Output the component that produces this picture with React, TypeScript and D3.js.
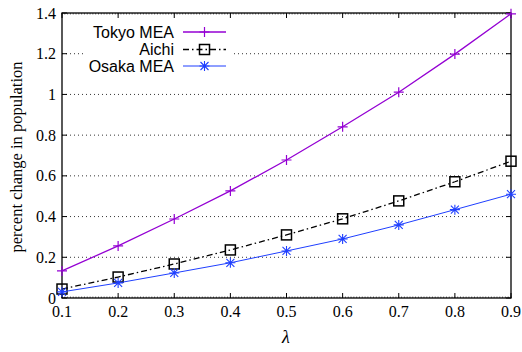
import React from "react";
import * as d3 from "d3";

const lambdas = [0.1, 0.2, 0.3, 0.4, 0.5, 0.6, 0.7, 0.8, 0.9];
const tokyo = [0.133, 0.256, 0.388, 0.526, 0.678, 0.841, 1.011, 1.198, 1.396];
const aichi = [0.044, 0.103, 0.167, 0.236, 0.31, 0.389, 0.477, 0.571, 0.672];
const osaka = [0.03, 0.074, 0.123, 0.173, 0.231, 0.29, 0.359, 0.434, 0.51];
const xTicks = [0.1, 0.2, 0.3, 0.4, 0.5, 0.6, 0.7, 0.8, 0.9];
const yTicks = [0, 0.2, 0.4, 0.6, 0.8, 1, 1.2, 1.4];
const seriesNames = ["Tokyo MEA", "Aichi", "Osaka MEA"];

const W = 522, H = 352;
const left = 62, right = 511, top = 13, bottom = 298;

function Marker({ kind, x, y, color }: { kind: string; x: number; y: number; color: string }) {
  if (kind === "plus") {
    return (
      <path d={`M${x - 5},${y}H${x + 5}M${x},${y - 5}V${y + 5}`} stroke={color} strokeWidth={1.2} fill="none" />
    );
  }
  if (kind === "square") {
    return <rect x={x - 5} y={y - 5} width={10} height={10} stroke={color} strokeWidth={1.5} fill="none" />;
  }
  return (
    <path
      d={`M${x - 5},${y}H${x + 5}M${x},${y - 5}V${y + 5}M${x - 4},${y - 4}L${x + 4},${y + 4}M${x - 4},${y + 4}L${x + 4},${y - 4}`}
      stroke={color}
      strokeWidth={1.1}
      fill="none"
    />
  );
}

export default function App() {
  const x = d3.scaleLinear().domain([0.1, 0.9]).range([left, right]);
  const y = d3.scaleLinear().domain([0, 1.4]).range([bottom, top]);
  const line = d3.line<number>().x((_, i) => x(lambdas[i])).y((v) => y(v));

  const series = [
    { name: seriesNames[0], data: tokyo, color: "#9400d3", dash: "", marker: "plus", width: 1.3 },
    { name: seriesNames[1], data: aichi, color: "#000000", dash: "6,3,1.5,3", marker: "square", width: 1.3 },
    { name: seriesNames[2], data: osaka, color: "#1f3fff", dash: "", marker: "star", width: 1 },
  ];

  const minor = d3.range(0.1, 0.9001, 0.005);
  const legendY = [32, 49.5, 66];

  return (
    <svg width={W} height={H} style={{ position: "absolute", left: 0, top: 0, background: "#fff" }}>
      {/* grid */}
      {yTicks.slice(1, -1).map((t) => (
        <line key={"g" + t} x1={left} x2={right} y1={y(t)} y2={y(t)} stroke="#000" strokeWidth={0.8} strokeDasharray="1,3" />
      ))}
      {/* minor x ticks */}
      {minor.map((t, i) => (
        <g key={"m" + i}>
          <line x1={x(t)} x2={x(t)} y1={bottom} y2={bottom - 1.5} stroke="#000" strokeWidth={0.6} />
          <line x1={x(t)} x2={x(t)} y1={top} y2={top + 1.5} stroke="#000" strokeWidth={0.6} />
        </g>
      ))}
      {xTicks.map((t) => (
        <g key={"x" + t}>
          <line x1={x(t)} x2={x(t)} y1={bottom} y2={bottom - 5} stroke="#000" />
          <line x1={x(t)} x2={x(t)} y1={top} y2={top + 5} stroke="#000" />
          <text x={x(t)} y={317} textAnchor="middle" fontFamily="Liberation Serif" fontSize={16}>
            {t}
          </text>
        </g>
      ))}
      {yTicks.map((t) => (
        <g key={"y" + t}>
          <line x1={left} x2={left + 5} y1={y(t)} y2={y(t)} stroke="#000" />
          <line x1={right} x2={right - 5} y1={y(t)} y2={y(t)} stroke="#000" />
          <text x={56} y={y(t) + 5.5} textAnchor="end" fontFamily="Liberation Serif" fontSize={16}>
            {t}
          </text>
        </g>
      ))}
      <rect x={left} y={top} width={right - left} height={bottom - top} fill="none" stroke="#000" strokeWidth={1.3} />

      {/* legend box */}
      <rect x={86} y={22} width={148} height={53} fill="#fff" />
      {series.map((s, i) => (
        <g key={"l" + s.name}>
          <text x={174} y={legendY[i] + 5.5} textAnchor="end" fontFamily="Liberation Sans" fontSize={16}>
            {s.name}
          </text>
          <line x1={183} x2={226} y1={legendY[i]} y2={legendY[i]} stroke={s.color} strokeWidth={s.width} strokeDasharray={s.dash} />
          <Marker kind={s.marker} x={204.5} y={legendY[i]} color={s.color} />
        </g>
      ))}

      {series.map((s) => (
        <g key={s.name}>
          <path d={line(s.data) || ""} fill="none" stroke={s.color} strokeWidth={s.width} strokeDasharray={s.dash} />
          {s.data.map((v, i) => (
            <Marker key={i} kind={s.marker} x={x(lambdas[i])} y={y(v)} color={s.color} />
          ))}
        </g>
      ))}

      <text x={286} y={343} textAnchor="middle" fontFamily="Liberation Serif" fontStyle="italic" fontSize={18}>
        λ
      </text>
      <text
        transform={`translate(22,157) rotate(-90)`}
        textAnchor="middle"
        fontFamily="Liberation Serif"
        fontSize={16.5}
      >
        percent change in population
      </text>
    </svg>
  );
}
